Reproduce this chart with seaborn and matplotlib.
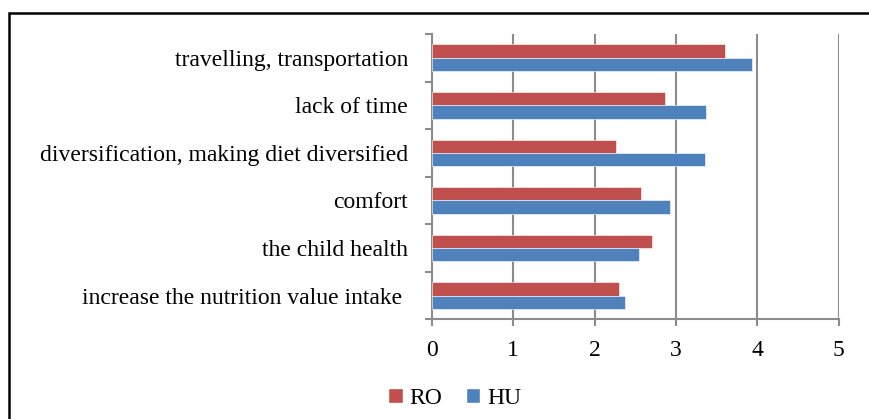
import matplotlib
matplotlib.use("Agg")
import matplotlib.pyplot as plt
import seaborn as sns
import pandas as pd
from matplotlib.patches import Rectangle, Patch

categories = ["travelling, transportation", "lack of time",
              "diversification, making diet diversified", "comfort",
              "the child health", "increase the nutrition value intake "]
ro_values = [3.60, 2.87, 2.26, 2.57, 2.71, 2.30]
hu_values = [3.94, 3.37, 3.36, 2.93, 2.55, 2.37]
groups = ["RO", "HU"]
colors = {"RO": "#C0504D", "HU": "#4F81BD"}

df = pd.DataFrame({
    "category": categories * 2,
    "value": ro_values + hu_values,
    "group": ["RO"] * len(categories) + ["HU"] * len(categories),
})

sns.set_style("white")
plt.rcParams['font.family'] = ['Liberation Serif', 'DejaVu Serif']
plt.rcParams['text.color'] = 'black'
plt.rcParams['xtick.color'] = 'black'
plt.rcParams['ytick.color'] = 'black'

fs = 17

fig = plt.figure(figsize=(8.69, 4.19), dpi=100)
ax = fig.add_axes([431.7 / 869, 1 - 319.3 / 419, (838.7 - 431.7) / 869, (319.3 - 34) / 419])

sns.barplot(data=df, y="category", x="value", hue="group", hue_order=groups,
            order=categories, palette=colors, width=0.56, orient="h", saturation=1,
            edgecolor="white", linewidth=0.4, legend=False, ax=ax, zorder=3)

ax.set_xlim(0, 5)
ax.set_ylim(5.5, -0.5)
ax.set_xticks(range(6))
ax.grid(axis="x", color="#8c8c8c", linewidth=1.5, zorder=0)
ax.set_axisbelow(True)
ax.set_xlabel("")
ax.set_ylabel("")

for s in ["top", "right"]:
    ax.spines[s].set_visible(False)
for s in ["left", "bottom"]:
    ax.spines[s].set_color("#8c8c8c")
    ax.spines[s].set_linewidth(1.5)

ax.set_yticks([i - 0.5 for i in range(7)], minor=True)
ax.tick_params(axis="y", which="major", length=0, pad=17, labelsize=fs, labelcolor="black")
ax.tick_params(axis="y", which="minor", length=5, width=1.5, color="#8c8c8c", direction="out")
ax.tick_params(axis="x", length=5, width=1.5, color="#8c8c8c", direction="out",
               labelsize=fs, pad=10, labelcolor="black")
ax.tick_params(left=True, bottom=True)
ax.yaxis.set_tick_params(which="minor", left=True)

handles = [Patch(facecolor=colors[g], label=g) for g in groups]
fig.legend(handles=handles, loc="center", bbox_to_anchor=(455 / 869, 1 - 398 / 419),
           ncol=2, frameon=False, fontsize=fs, handlelength=0.6, handleheight=0.6,
           handletextpad=0.3, columnspacing=1.0)

fig.patches.append(Rectangle((8.5 / 869, -0.1), 1.2, 1 - 13 / 419 + 0.1,
                             transform=fig.transFigure, fill=False,
                             edgecolor="black", linewidth=1.8))

fig.savefig("out.png", dpi=100)
